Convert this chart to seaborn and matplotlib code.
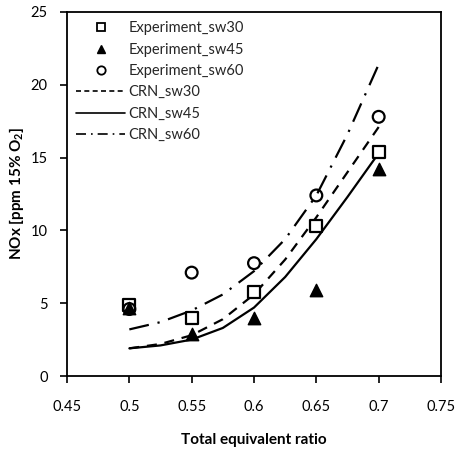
import matplotlib
matplotlib.use("Agg")
import matplotlib.pyplot as plt
from matplotlib.lines import Line2D
import seaborn as sns
import pandas as pd

# Measured NOx emissions at each total equivalent ratio
phi_exp = [0.50, 0.55, 0.60, 0.65, 0.70]
exp_sw30 = [4.9, 4.0, 5.8, 10.3, 15.4]
exp_sw45 = [4.7, 2.9, 4.0, 5.9, 14.2]
exp_sw60 = [4.6, 7.1, 7.75, 12.4, 17.8]

# Chemical reactor network predictions
phi_crn = [0.500, 0.525, 0.550, 0.575, 0.600, 0.625, 0.650, 0.675, 0.700]
crn_sw30 = [1.9, 2.2, 2.8, 3.9, 5.6, 8.0, 10.9, 14.0, 17.1]
crn_sw45 = [1.9, 2.1, 2.5, 3.3, 4.7, 6.8, 9.4, 12.3, 15.3]
crn_sw60 = [3.2, 3.7, 4.5, 5.6, 7.2, 9.4, 12.4, 16.6, 21.4]

x_ticks = [0.45, 0.5, 0.55, 0.6, 0.65, 0.7, 0.75]
y_ticks = [0, 5, 10, 15, 20, 25]

sns.set_theme(style="white")
plt.rcParams["font.family"] = ["Lato", "DejaVu Sans"]
plt.rcParams["mathtext.fontset"] = "custom"
plt.rcParams["mathtext.rm"] = "Lato"
plt.rcParams["mathtext.bf"] = "Lato:bold"

fig = plt.figure(figsize=(4.58, 4.54), dpi=100)
ax = fig.add_axes([0.1463, 0.1718, 0.8166, 0.8018])

exp_df = pd.DataFrame({"phi": phi_exp, "sw30": exp_sw30, "sw45": exp_sw45, "sw60": exp_sw60})
crn_df = pd.DataFrame({"phi": phi_crn, "sw30": crn_sw30, "sw45": crn_sw45, "sw60": crn_sw60})

lw = 1.6
sns.lineplot(data=crn_df, x="phi", y="sw30", ax=ax, color="black", lw=lw,
             linestyle=(0, (4.5, 3.5)))
sns.lineplot(data=crn_df, x="phi", y="sw45", ax=ax, color="black", lw=lw,
             linestyle="-")
sns.lineplot(data=crn_df, x="phi", y="sw60", ax=ax, color="black", lw=lw,
             linestyle=(0, (9, 4, 1, 4)))

ms = 80
sns.scatterplot(data=exp_df, x="phi", y="sw30", ax=ax, marker="s", s=ms,
                facecolor="white", edgecolor="black", linewidth=1.6, zorder=4)
sns.scatterplot(data=exp_df, x="phi", y="sw45", ax=ax, marker="^", s=ms,
                color="black", edgecolor="black", linewidth=1.0, zorder=5)
sns.scatterplot(data=exp_df, x="phi", y="sw60", ax=ax, marker="o", s=ms * 0.9,
                facecolor="none", edgecolor="black", linewidth=1.6, zorder=6)

ax.set_xlim(0.45, 0.75)
ax.set_ylim(0, 25)
ax.set_xticks(x_ticks)
ax.set_xticklabels([f"{v:g}" for v in x_ticks])
ax.set_yticks(y_ticks)
ax.set_yticklabels([str(v) for v in y_ticks])
ax.tick_params(axis="both", direction="out", length=5, width=1.2,
               labelsize=10.5, colors="black", bottom=True, left=True)
ax.tick_params(axis="x", pad=12)
ax.tick_params(axis="y", pad=9)
for sp in ax.spines.values():
    sp.set_visible(True)
    sp.set_color("black")
    sp.set_linewidth(1.3)

ax.set_xlabel("Total equivalent ratio", fontsize=11, fontweight="bold",
              color="black", labelpad=14)
ax.set_ylabel(r"NOx [ppm 15% O$_\mathbf{2}$]", fontsize=11, fontweight="bold",
              color="black", labelpad=3)

handles = [
    Line2D([], [], marker="s", ls="none", mfc="white", mec="black", ms=6, mew=1.3),
    Line2D([], [], marker="^", ls="none", mfc="black", mec="black", ms=6),
    Line2D([], [], marker="o", ls="none", mfc="white", mec="black", ms=6, mew=1.3),
    Line2D([], [], color="black", lw=1.2, ls=(0, (3, 2))),
    Line2D([], [], color="black", lw=1.2, ls="-"),
    Line2D([], [], color="black", lw=1.2, ls=(0, (6, 3, 1, 3))),
]
labels = ["Experiment_sw30", "Experiment_sw45", "Experiment_sw60",
          "CRN_sw30", "CRN_sw45", "CRN_sw60"]
ax.legend(handles, labels, loc="upper left", bbox_to_anchor=(0.0, 1.0),
          frameon=False, fontsize=10.5, handlelength=3.3, handletextpad=0.25,
          labelspacing=0.5, borderaxespad=0.45, borderpad=0.2)

sns.despine(ax=ax, top=False, right=False)
fig.savefig("out.png", dpi=100)
